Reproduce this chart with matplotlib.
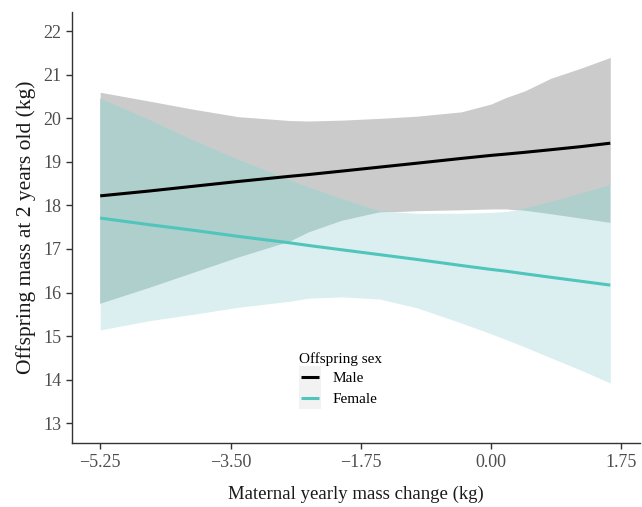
import numpy as np
import matplotlib
matplotlib.use("Agg")
import matplotlib.pyplot as plt
from matplotlib.lines import Line2D
from matplotlib.patches import Rectangle
from matplotlib.legend_handler import HandlerBase

plt.rcParams['font.family'] = ['Liberation Serif', 'DejaVu Serif']

# maternal yearly mass change (kg)
x = [-5.25, -4.6, -4.0, -3.4, -2.7, -2.45, -2.0, -1.5, -1.0, -0.4, 0.0, 0.2, 0.45, 0.8, 1.2, 1.6]

# predicted offspring mass and confidence bands
male_fit = [18.22, 18.33, 18.44, 18.55, 18.67, 18.71, 18.79, 18.88, 18.97, 19.08, 19.15, 19.18, 19.22, 19.28, 19.35, 19.43]
male_lo = [15.74, 16.1, 16.45, 16.8, 17.17, 17.38, 17.65, 17.84, 17.88, 17.9, 17.92, 17.92, 17.88, 17.8, 17.7, 17.6]
male_hi = [20.60, 20.40, 20.21, 20.04, 19.95, 19.94, 19.96, 20.0, 20.05, 20.15, 20.33, 20.48, 20.63, 20.92, 21.15, 21.40]

female_fit = [17.71, 17.56, 17.43, 17.29, 17.14, 17.08, 16.98, 16.87, 16.76, 16.62, 16.53, 16.49, 16.43, 16.35, 16.26, 16.17]
female_lo = [15.14, 15.35, 15.5, 15.66, 15.8, 15.87, 15.9, 15.85, 15.65, 15.3, 15.05, 14.92, 14.75, 14.5, 14.22, 13.92]
female_hi = [20.46, 19.98, 19.5, 19.06, 18.58, 18.42, 18.15, 17.87, 17.82, 17.82, 17.84, 17.86, 17.93, 18.08, 18.27, 18.47]

x_ticks = [-5.25, -3.50, -1.75, 0.00, 1.75]
y_ticks = [13, 14, 15, 16, 17, 18, 19, 20, 21, 22]

male_col = 'black'
female_col = '#4fc5bb'
key_bg = '#f2f2f2'


class KeyHandler(HandlerBase):
    # grey key box with a short line across the middle, like ggplot
    def create_artists(self, legend, orig_handle, xdescent, ydescent,
                       width, height, fontsize, trans):
        bg = Rectangle((-xdescent, -ydescent), width, height,
                       facecolor=key_bg, edgecolor='none', transform=trans)
        ymid = -ydescent + height / 2
        ln = Line2D([-xdescent + 0.12 * width, -xdescent + 0.88 * width], [ymid, ymid],
                    color=orig_handle.get_color(), lw=orig_handle.get_linewidth(),
                    solid_capstyle='butt', transform=trans)
        return [bg, ln]


fig = plt.figure(figsize=(6.42, 5.07), dpi=100)
ax = fig.add_axes([0.112, 0.126, 0.885, 0.850])

xa = np.array(x)
ml, mh = np.array(male_lo), np.array(male_hi)
fl, fh = np.array(female_lo), np.array(female_hi)

ax.fill_between(xa, ml, mh, color='#cbcbcb', lw=0)
ax.fill_between(xa, fl, fh, color='#dbeff0', lw=0)
# where the two bands overlap
lo = np.maximum(ml, fl)
hi = np.minimum(mh, fh)
ax.fill_between(xa, lo, hi, where=hi > lo, interpolate=True, color='#aecfcc', lw=0)

l_m, = ax.plot(x, male_fit, color=male_col, lw=2.2, solid_capstyle='butt')
l_f, = ax.plot(x, female_fit, color=female_col, lw=2.2, solid_capstyle='butt')

ax.set_xlim(-5.63, 2.0)
ax.set_ylim(12.54, 22.44)
ax.set_xticks(x_ticks)
ax.set_xticklabels([f"{t:.2f}".replace('-', '\u2212') for t in x_ticks])
ax.set_yticks(y_ticks)

for s in ['top', 'right']:
    ax.spines[s].set_visible(False)
for s in ['left', 'bottom']:
    ax.spines[s].set_color('#333333')
    ax.spines[s].set_linewidth(1.0)
ax.tick_params(colors='#333333', labelcolor='#4d4d4d', labelsize=13, length=4, width=1)

ax.set_xlabel('Maternal yearly mass change (kg)', fontsize=13.5, color='#1a1a1a', labelpad=11)
ax.set_ylabel('Offspring mass at 2 years old (kg)', fontsize=15.5, color='#1a1a1a', labelpad=5)

leg = ax.legend([l_m, l_f], ['Male', 'Female'], title='Offspring sex',
                handler_map={Line2D: KeyHandler()},
                loc='center', bbox_to_anchor=(0.472, 0.145), frameon=False,
                fontsize=11, title_fontsize=11, handlelength=1.5,
                handleheight=1.8, labelspacing=0.0, handletextpad=0.7,
                borderpad=0.2)
leg._legend_box.align = 'left'

fig.savefig('out.png', dpi=100)
